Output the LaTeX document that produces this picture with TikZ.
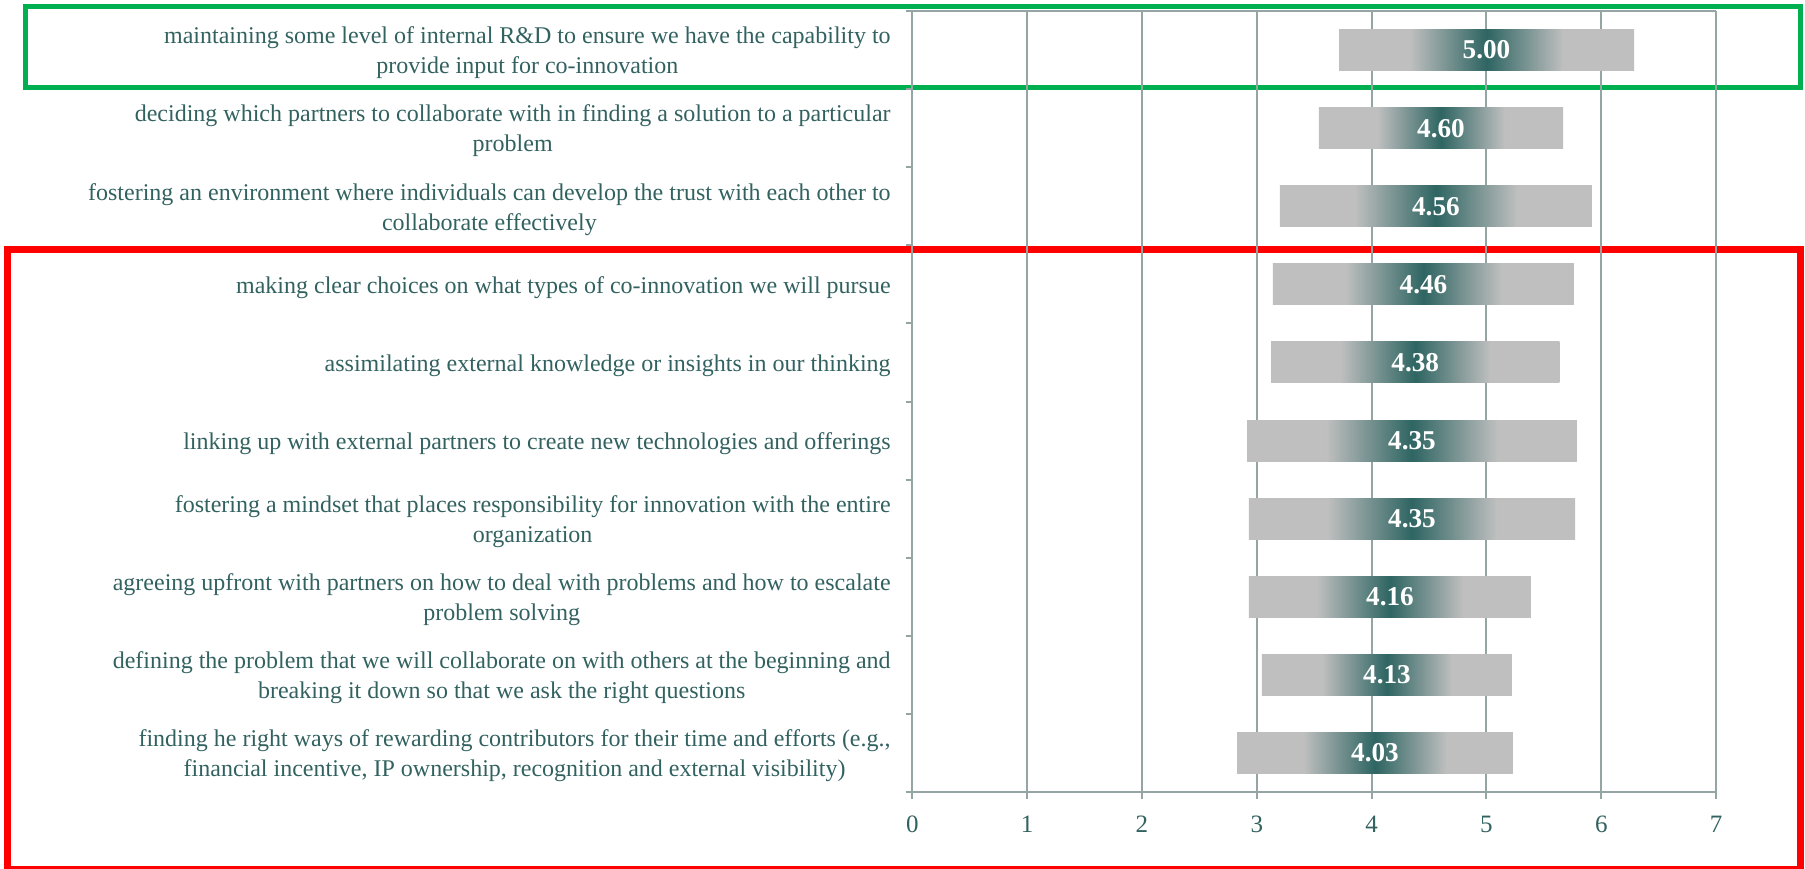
\documentclass[tikz,border=0pt]{standalone}
\usepackage{fontspec}
\setmainfont{Liberation Serif}
\definecolor{labtxt}{RGB}{50,98,96}
\definecolor{gridc}{RGB}{149,165,164}
\definecolor{bargray}{RGB}{191,191,191}
\definecolor{bardark}{RGB}{46,101,98}
\definecolor{boxgreen}{RGB}{0,176,80}
\definecolor{boxred}{RGB}{255,0,0}
\pgfdeclarehorizontalshading{barshade}{100bp}{color(0bp)=(bargray); color(37bp)=(bargray); color(50bp)=(bardark); color(63bp)=(bargray); color(100bp)=(bargray)}
\begin{document}
\begin{tikzpicture}[x=0.5pt,y=-0.5pt,
  cat/.style={anchor=east, align=center, text=labtxt, font=\fontsize{12}{15}\selectfont, inner sep=0pt},
  val/.style={text=white, font=\fontsize{13.6}{16}\selectfont\bfseries, inner sep=0pt},
  ticklab/.style={text=labtxt, font=\fontsize{12.5}{15}\selectfont, inner sep=0pt},
  gridln/.style={draw=gridc, line width=1pt},
  barbox/.style={shading=barshade}]
\useasboundingbox (0,0) rectangle (1805,868);
% highlight boxes
\draw[boxred, line width=3.5pt] (7,249.7) rectangle (1800,869.5);
\draw[boxgreen, line width=2.5pt] (25,6.7) rectangle (1800,87);
% grid
\foreach \k in {0,...,7}{
  \draw[gridln] ({912.3+114.83*\k},11) -- ({912.3+114.83*\k},799);
  \node[ticklab] (t\k) at ({912.3+114.83*\k},824) {\k};
}
\draw[gridln] (912.3,11) -- (1716.1,11);
\draw[gridln] (912.3,792) -- (1716.1,792);
\foreach \j in {0,...,10}{
  \draw[gridln] (905.6,{11+78.1*\j}) -- (912.3,{11+78.1*\j});
}
% bars
\foreach \i/\lo/\hi/\v in {0/3.716/6.285/5.00, 1/3.541/5.667/4.60, 2/3.201/5.919/4.56, 3/3.141/5.762/4.46, 4/3.124/5.636/4.38, 5/2.915/5.788/4.35, 6/2.932/5.771/4.35, 7/2.932/5.387/4.16, 8/3.045/5.222/4.13, 9/2.828/5.231/4.03}{
  \pgfmathsetmacro{\yc}{50.05+78.1*\i}
  \pgfmathsetmacro{\xl}{912.3+114.83*\lo}
  \pgfmathsetmacro{\xr}{912.3+114.83*\hi}
  \shade[barbox] (\xl,\yc-20.5) rectangle (\xr,\yc+20.5);
  \node[val] (v\i) at ({(\xl+\xr)/2},\yc) {\v};
}
% category labels
\node[cat] (c0) at (891,53) {maintaining some level of internal R\&D to ensure we have the capability to\\provide input for co-innovation};
\node[cat] (c1) at (891,131.1) {deciding which partners to collaborate with in finding a solution to a particular\\problem};
\node[cat] (c2) at (891,209.2) {fostering an environment where individuals can develop the trust with each other to\\collaborate effectively};
\node[cat] (c3) at (891,287.3) {making clear choices on what types of co-innovation we will pursue};
\node[cat] (c4) at (891,365.4) {assimilating external knowledge or insights in our thinking};
\node[cat] (c5) at (891,443.5) {linking up with external partners to create new technologies and offerings};
\node[cat] (c6) at (891,521.6) {fostering a mindset that places responsibility for innovation with the entire\\organization};
\node[cat] (c7) at (891,599.7) {agreeing upfront with partners on how to deal with problems and how to escalate\\problem solving};
\node[cat] (c8) at (891,677.8) {defining the problem that we will collaborate on with others at the beginning and\\breaking it down so that we ask the right questions};
\node[cat] (c9) at (891,755.9) {finding he right ways of rewarding contributors for their time and efforts (e.g.,\\financial incentive, IP ownership, recognition and external visibility)};
\end{tikzpicture}
\end{document}
